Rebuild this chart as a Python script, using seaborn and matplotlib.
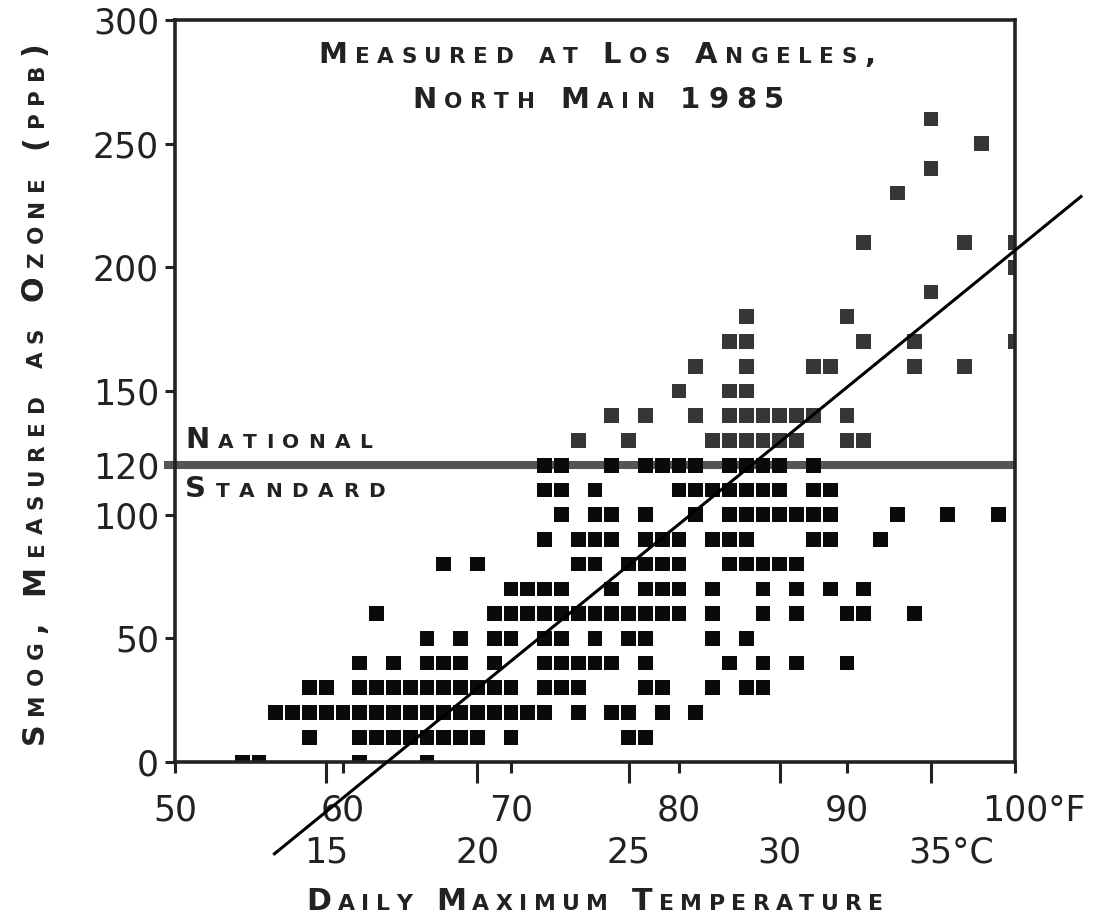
import matplotlib
matplotlib.use("Agg")
import matplotlib.pyplot as plt
from matplotlib.font_manager import FontProperties
from matplotlib import transforms
import seaborn as sns
import pandas as pd
import numpy as np

# ---------------- data ----------------
ozone_levels = [0, 10, 20, 30, 40, 50, 60, 70, 80, 90, 100, 110, 120, 130,
                140, 150, 160, 170, 180, 190, 200, 210, 230, 240, 250, 260]
temps_at_level = [
    [54, 55, 61, 65],
    [58, 61, 62, 63, 64, 65, 66, 67, 68, 70, 77, 78],
    [56, 57, 58, 59, 60, 61, 62, 63, 64, 65, 66, 67, 68, 69, 70, 71, 72, 74, 76, 77, 79, 81],
    [58, 59, 61, 62, 63, 64, 65, 66, 67, 68, 69, 70, 72, 73, 74, 78, 79, 82, 84, 85],
    [61, 63, 65, 66, 67, 69, 72, 73, 74, 75, 76, 78, 83, 85, 87, 90],
    [65, 67, 69, 70, 72, 73, 75, 77, 78, 82, 84],
    [62, 69, 70, 71, 72, 73, 74, 75, 76, 77, 78, 79, 80, 82, 85, 87, 90, 91, 94],
    [70, 71, 72, 73, 76, 78, 79, 80, 82, 85, 87, 89, 91],
    [66, 68, 74, 75, 77, 78, 79, 80, 83, 84, 85, 86, 87],
    [72, 74, 75, 76, 78, 79, 80, 82, 83, 84, 88, 89, 92],
    [73, 75, 76, 78, 81, 83, 84, 85, 86, 87, 88, 89, 93, 96, 99],
    [72, 73, 75, 80, 81, 82, 83, 84, 85, 86, 88, 89],
    [72, 73, 76, 78, 79, 80, 81, 83, 84, 85, 86, 88],
    [74, 77, 82, 83, 84, 85, 86, 87, 90, 91],
    [76, 78, 81, 83, 84, 85, 86, 87, 88, 90],
    [80, 83, 84],
    [81, 84, 88, 89, 94, 97],
    [83, 84, 91, 94, 100],
    [84, 90],
    [95],
    [100],
    [91, 97, 100],
    [93],
    [95],
    [98],
    [95],
]
standard_ppb = 120
fit_temp_f = [55.85, 104.0]
fit_ozone = [-37.5, 229.0]

f_ticks = [50, 60, 70, 80, 90, 100]
f_labels = ["50", "60", "70", "80", "90", "100°F"]
c_ticks = [15, 20, 25, 30, 35]
c_labels = ["15", "20", "25", "30", "35°C"]
y_ticks = [0, 50, 100, 120, 150, 200, 250, 300]
y_labels = ["0", "50", "100", "120", "150", "200", "250", "300"]

title_1 = "Measured at Los Angeles,"
title_2 = "North Main 1985"
std_1 = "National"
std_2 = "Standard"
x_title = "Daily Maximum Temperature"
y_title = "Smog, Measured as Ozone (ppb)"

# ---------------- figure ----------------
W, H = 1093, 919
sns.set_theme(style="white")
plt.rcParams["font.family"] = ["DejaVu Sans"]
INK = "#222222"

fig = plt.figure(figsize=(W / 100, H / 100), dpi=100)
fig.patch.set_facecolor("white")
ax = fig.add_axes([175 / W, 1 - 762 / H, 840 / W, 742 / H])
ax.set_facecolor("white")

records = [(t, lvl) for lvl, ts in zip(ozone_levels, temps_at_level) for t in ts]
df = pd.DataFrame(records, columns=["temp_f", "ozone_ppb"])
df["exceeds"] = np.where(df["ozone_ppb"] > standard_ppb, "above", "below")

ax.axhline(standard_ppb, xmin=-0.013, xmax=1.0, color="#555555", lw=5.8,
           clip_on=False, zorder=1.5, solid_capstyle="butt")
sns.scatterplot(data=df, x="temp_f", y="ozone_ppb", hue="exceeds",
                palette={"above": "#363636", "below": "#0a0a0a"},
                marker="s", s=112, linewidth=0, legend=False, ax=ax, zorder=2.2)
ax.plot(fit_temp_f, fit_ozone, color="black", lw=2.2, clip_on=False,
        zorder=3, solid_capstyle="butt")

ax.set_xlim(50, 100)
ax.set_ylim(0, 300)
ax.set_xlabel("")
ax.set_ylabel("")
for sp in ax.spines.values():
    sp.set_visible(True)
    sp.set_linewidth(2.6)
    sp.set_color(INK)

ax.set_xticks(f_ticks)
ax.set_xticklabels(f_labels)
ax.set_yticks(y_ticks)
ax.set_yticklabels(y_labels)
ax.tick_params(axis="x", bottom=True, direction="out", length=8, width=2.2,
               pad=15, labelsize=25, colors=INK)
ax.tick_params(axis="y", left=True, direction="out", length=7, width=2.2,
               pad=4.5, labelsize=25, colors=INK)

sec = ax.secondary_xaxis("bottom", functions=(lambda f: (f - 32) * 5 / 9,
                                              lambda c: c * 9 / 5 + 32))
sec.set_xticks(c_ticks)
sec.set_xticklabels(c_labels)
sec.spines["bottom"].set_visible(False)
sec.tick_params(axis="x", bottom=True, direction="out", length=15, width=2.2,
                pad=38, labelsize=25, colors=INK)

# shift the unit-bearing labels so the number stays under its tick
lab = ax.get_xticklabels()[-1]
lab.set_transform(lab.get_transform() + transforms.ScaledTranslation(19 / 100, 0, fig.dpi_scale_trans))
lab = sec.get_xticklabels()[-1]
lab.set_transform(lab.get_transform() + transforms.ScaledTranslation(20 / 100, 0, fig.dpi_scale_trans))

# ---------------- small-caps text helper ----------------
renderer = fig.canvas.get_renderer()
WEIGHT = "bold"


def adv(ch, size):
    prop = FontProperties(family="DejaVu Sans", size=size, weight=WEIGHT)
    if ch == " ":
        w1, _, _ = renderer.get_text_width_height_descent("x x", prop, ismath=False)
        w2, _, _ = renderer.get_text_width_height_descent("xx", prop, ismath=False)
        return w1 - w2
    w, _, _ = renderer.get_text_width_height_descent(ch, prop, ismath=False)
    return w


def sc_text(x, y, text, big, small, span, anchor="center", rotation=0, color=INK):
    items = [(c.upper(), small) if c.islower() else (c, big) for c in text]
    widths = [adv(c, s) for c, s in items]
    gap = (span - sum(widths)) / (len(items) - 1)
    pos = -span / 2 if anchor == "center" else 0.0
    for (c, s), w in zip(items, widths):
        if rotation == 0:
            px, py = x + pos, y
        else:
            px, py = x, y - pos
        if c != " ":
            fig.text(px / W, 1 - py / H, c, fontsize=s, color=color, ha="left",
                     va="baseline", rotation=rotation, rotation_mode="anchor",
                     family="DejaVu Sans", weight=WEIGHT)
        pos += w + gap


sc_text(597, 63, title_1, 21, 15.5, 557)
sc_text(598, 108, title_2, 21, 15.5, 372)
sc_text(185, 448, std_1, 21, 14.5, 187, anchor="left")
sc_text(185, 497, std_2, 21, 14.5, 200, anchor="left")
sc_text(595, 910, x_title, 21.7, 15.8, 577)
sc_text(43, 393, y_title, 21.7, 15.5, 703, rotation=90)

fig.savefig("out.png", dpi=100, facecolor="white")
